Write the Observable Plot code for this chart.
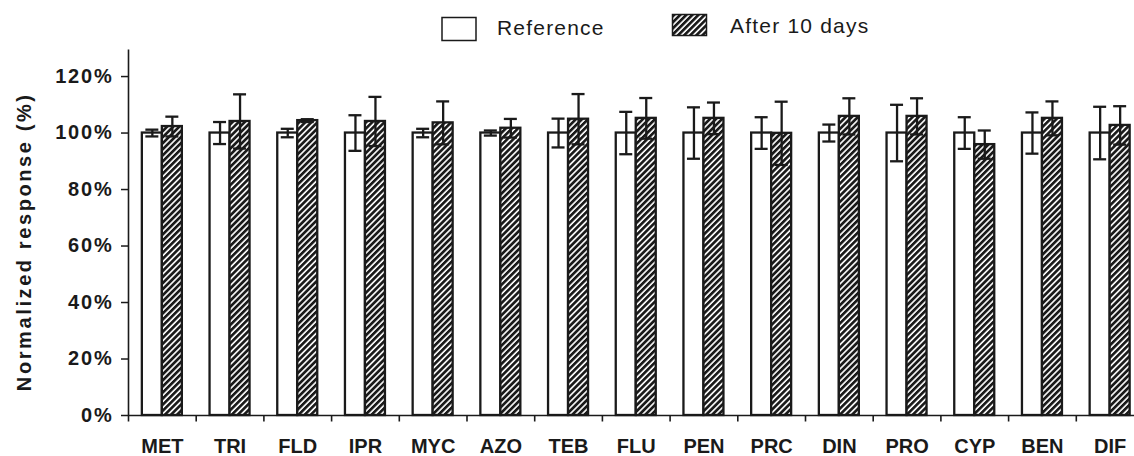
<!DOCTYPE html>
<html>
<head>
<meta charset="utf-8">
<script src="https://cdn.jsdelivr.net/npm/d3@7"></script>
<script src="https://cdn.jsdelivr.net/npm/@observablehq/plot@0.6"></script>
<style>
  html, body { margin: 0; padding: 0; background: white; overflow: hidden; }
  #wrap { position: relative; width: 1134px; height: 456px; }
  #legend { position: absolute; left: 0; top: 0; pointer-events: none; }
  #chart svg { display: block; }
  #chart g[aria-label="y-axis tick label"] { letter-spacing: 1.8px; }
  #chart g[aria-label="text"] { letter-spacing: 2.6px; }
</style>
</head>
<body>
<div id="wrap">
  <div id="chart"></div>
  <svg id="legend" width="1134" height="50"></svg>
</div>
<script>
// ---- data ----
const categories = ["MET","TRI","FLD","IPR","MYC","AZO","TEB","FLU","PEN","PRC","DIN","PRO","CYP","BEN","DIF"];
const seriesNames = ["Reference", "After 10 days"];
const refMean   = [100, 100, 100, 100, 100, 100, 100, 100, 100, 100, 100, 100, 100, 100, 100];
const refErr    = [1.2, 3.9, 1.5, 6.3, 1.5, 0.9, 5.1, 7.5, 9.1, 5.6, 3.0, 10.0, 5.6, 7.3, 9.3];
const afterMean = [102.3, 104.1, 104.4, 104.1, 103.6, 101.7, 104.9, 105.2, 105.2, 99.9, 105.9, 105.9, 95.9, 105.2, 102.7];
const afterErr  = [3.5, 9.6, 0.5, 8.7, 7.6, 3.3, 8.9, 7.2, 5.6, 11.2, 6.4, 6.4, 5.0, 6.0, 6.8];
const yTicks = [0, 20, 40, 60, 80, 100, 120];
const yLabel = "Normalized response (%)";

const rows = categories.map((c, i) => ({
  cat: c, ref: refMean[i], refErr: refErr[i], after: afterMean[i], afterErr: afterErr[i]
}));

// ---- layout ----
const W = 1134, H = 456;
const xStart = 128, xEnd = 1143.5;
const bw = (xEnd - xStart) / categories.length;
const barW = 20, capHalf = 6.5, errOff = 10;
const ink = "#1a1a1a";
const font = "'Liberation Sans', Arial, Helvetica, sans-serif";

function hatchDefs(id) {
  return `<defs><pattern id="${id}" patternUnits="userSpaceOnUse" width="4.3" height="4.3" patternTransform="rotate(45)">
    <rect width="4.3" height="4.3" fill="white"/>
    <rect width="2.7" height="4.3" fill="${ink}"/>
  </pattern></defs>`;
}

const defsMark = () => {
  const g = document.createElementNS("http://www.w3.org/2000/svg", "g");
  g.innerHTML = hatchDefs("hatch");
  return g;
};

const chart = Plot.plot({
  width: W,
  height: H,
  marginLeft: xStart,
  marginRight: 0,
  marginTop: 49.5,
  marginBottom: 41,
  style: { fontFamily: font, fontSize: "20px", fontWeight: "bold", color: ink, background: "white" },
  x: { type: "band", domain: categories, range: [xStart, xEnd], padding: 0, round: false },
  y: { domain: [0, 129.4] },
  marks: [
    defsMark,
    Plot.axisX({ tickSize: 0, tickPadding: 23, fontSize: 20, fontWeight: "bold", label: null }),
    Plot.axisY({ ticks: yTicks, tickFormat: d => d + "%", tickSize: 7, tickPadding: 8,
      fontSize: 20, fontWeight: "bold", strokeWidth: 1.5, label: null }),
    // reference bars
    Plot.barY(rows, { x: "cat", y: "ref", fill: "white", stroke: ink, strokeWidth: 2.3,
      insetLeft: bw / 2 - barW, insetRight: bw / 2 }),
    // after 10 days bars
    Plot.barY(rows, { x: "cat", y: "after", fill: "url(#hatch)", stroke: ink, strokeWidth: 2.3,
      insetLeft: bw / 2, insetRight: bw / 2 - barW }),
    // error bars: reference
    Plot.ruleX(rows, { x: "cat", y1: d => d.ref - d.refErr, y2: d => d.ref + d.refErr,
      dx: -errOff, stroke: ink, strokeWidth: 2.3 }),
    Plot.tickY(rows, { x: "cat", y: d => d.ref + d.refErr, stroke: ink, strokeWidth: 2.3,
      insetLeft: bw / 2 - errOff - capHalf, insetRight: bw / 2 + errOff - capHalf }),
    Plot.tickY(rows, { x: "cat", y: d => d.ref - d.refErr, stroke: ink, strokeWidth: 2.3,
      insetLeft: bw / 2 - errOff - capHalf, insetRight: bw / 2 + errOff - capHalf }),
    // error bars: after 10 days
    Plot.ruleX(rows, { x: "cat", y1: d => d.after - d.afterErr, y2: d => d.after + d.afterErr,
      dx: errOff, stroke: ink, strokeWidth: 2.3 }),
    Plot.tickY(rows, { x: "cat", y: d => d.after + d.afterErr, stroke: ink, strokeWidth: 2.3,
      insetLeft: bw / 2 + errOff - capHalf, insetRight: bw / 2 - errOff - capHalf }),
    Plot.tickY(rows, { x: "cat", y: d => d.after - d.afterErr, stroke: ink, strokeWidth: 2.3,
      insetLeft: bw / 2 + errOff - capHalf, insetRight: bw / 2 - errOff - capHalf }),
    // axis lines
    Plot.ruleY([0], { stroke: ink, strokeWidth: 1.6 }),
    Plot.ruleX([categories[0]], { dx: -bw / 2, stroke: ink, strokeWidth: 1.6 }),
    // category boundary ticks
    Plot.ruleX(categories, { x: d => d, y1: 0, y2: 0, dx: -bw / 2, insetTop: 0, insetBottom: -6.5,
      stroke: ink, strokeWidth: 1.6 }),
    // y-axis title
    Plot.text([yLabel], { text: d => d, frameAnchor: "left", textAnchor: "middle", rotate: -90,
      dx: -104, dy: 9, fontSize: 20, fontWeight: "bold", fill: ink })
  ]
});
document.getElementById("chart").appendChild(chart);

// ---- legend ----
const legend = d3.select("#legend");
legend.html(hatchDefs("hatchLegend"));
legend.append("rect").attr("x", 442).attr("y", 17.5).attr("width", 34).attr("height", 23)
  .attr("fill", "white").attr("stroke", ink).attr("stroke-width", 1.5);
legend.append("text").attr("x", 497).attr("y", 35).text(seriesNames[0])
  .attr("font-family", font).attr("font-size", 21).attr("letter-spacing", 1.2).attr("fill", ink);
legend.append("rect").attr("x", 672.5).attr("y", 14.5).attr("width", 34).attr("height", 21)
  .attr("fill", "url(#hatchLegend)").attr("stroke", ink).attr("stroke-width", 1.5);
legend.append("text").attr("x", 730).attr("y", 33).text(seriesNames[1])
  .attr("font-family", font).attr("font-size", 21).attr("letter-spacing", 1.2).attr("fill", ink);
</script>
</body>
</html>
